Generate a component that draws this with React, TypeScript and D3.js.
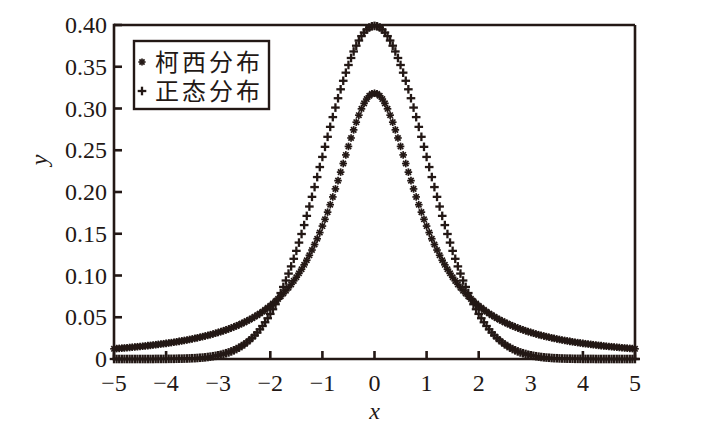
import React from "react";
import * as d3 from "d3";

const xValues = [
  -5.0, -4.95, -4.9, -4.85, -4.8, -4.75, -4.7, -4.65, -4.6, -4.55,
  -4.5, -4.45, -4.4, -4.35, -4.3, -4.25, -4.2, -4.15, -4.1, -4.05,
  -4.0, -3.95, -3.9, -3.85, -3.8, -3.75, -3.7, -3.65, -3.6, -3.55,
  -3.5, -3.45, -3.4, -3.35, -3.3, -3.25, -3.2, -3.15, -3.1, -3.05,
  -3.0, -2.95, -2.9, -2.85, -2.8, -2.75, -2.7, -2.65, -2.6, -2.55,
  -2.5, -2.45, -2.4, -2.35, -2.3, -2.25, -2.2, -2.15, -2.1, -2.05,
  -2.0, -1.95, -1.9, -1.85, -1.8, -1.75, -1.7, -1.65, -1.6, -1.55,
  -1.5, -1.45, -1.4, -1.35, -1.3, -1.25, -1.2, -1.15, -1.1, -1.05,
  -1.0, -0.95, -0.9, -0.85, -0.8, -0.75, -0.7, -0.65, -0.6, -0.55,
  -0.5, -0.45, -0.4, -0.35, -0.3, -0.25, -0.2, -0.15, -0.1, -0.05,
  0.0,
  0.05, 0.1, 0.15, 0.2, 0.25, 0.3, 0.35, 0.4, 0.45, 0.5,
  0.55, 0.6, 0.65, 0.7, 0.75, 0.8, 0.85, 0.9, 0.95, 1.0,
  1.05, 1.1, 1.15, 1.2, 1.25, 1.3, 1.35, 1.4, 1.45, 1.5,
  1.55, 1.6, 1.65, 1.7, 1.75, 1.8, 1.85, 1.9, 1.95, 2.0,
  2.05, 2.1, 2.15, 2.2, 2.25, 2.3, 2.35, 2.4, 2.45, 2.5,
  2.55, 2.6, 2.65, 2.7, 2.75, 2.8, 2.85, 2.9, 2.95, 3.0,
  3.05, 3.1, 3.15, 3.2, 3.25, 3.3, 3.35, 3.4, 3.45, 3.5,
  3.55, 3.6, 3.65, 3.7, 3.75, 3.8, 3.85, 3.9, 3.95, 4.0,
  4.05, 4.1, 4.15, 4.2, 4.25, 4.3, 4.35, 4.4, 4.45, 4.5,
  4.55, 4.6, 4.65, 4.7, 4.75, 4.8, 4.85, 4.9, 4.95, 5.0,
];

const cauchyValues = [
  0.0122, 0.0125, 0.0127, 0.0130, 0.0132, 0.0135, 0.0138, 0.0141, 0.0144, 0.0147,
  0.0150, 0.0153, 0.0156, 0.0160, 0.0163, 0.0167, 0.0171, 0.0175, 0.0179, 0.0183,
  0.0187, 0.0192, 0.0196, 0.0201, 0.0206, 0.0211, 0.0217, 0.0222, 0.0228, 0.0234,
  0.0240, 0.0247, 0.0253, 0.0260, 0.0268, 0.0275, 0.0283, 0.0291, 0.0300, 0.0309,
  0.0318, 0.0328, 0.0338, 0.0349, 0.0360, 0.0372, 0.0384, 0.0397, 0.0410, 0.0424,
  0.0439, 0.0455, 0.0471, 0.0488, 0.0506, 0.0525, 0.0545, 0.0566, 0.0588, 0.0612,
  0.0637, 0.0663, 0.0690, 0.0720, 0.0751, 0.0784, 0.0818, 0.0855, 0.0894, 0.0936,
  0.0979, 0.1026, 0.1075, 0.1128, 0.1183, 0.1242, 0.1305, 0.1371, 0.1440, 0.1514,
  0.1592, 0.1673, 0.1759, 0.1848, 0.1941, 0.2037, 0.2136, 0.2238, 0.2341, 0.2444,
  0.2546, 0.2647, 0.2744, 0.2836, 0.2920, 0.2996, 0.3061, 0.3113, 0.3152, 0.3175,
  0.3183,
  0.3175, 0.3152, 0.3113, 0.3061, 0.2996, 0.2920, 0.2836, 0.2744, 0.2647, 0.2546,
  0.2444, 0.2341, 0.2238, 0.2136, 0.2037, 0.1941, 0.1848, 0.1759, 0.1673, 0.1592,
  0.1514, 0.1440, 0.1371, 0.1305, 0.1242, 0.1183, 0.1128, 0.1075, 0.1026, 0.0979,
  0.0936, 0.0894, 0.0855, 0.0818, 0.0784, 0.0751, 0.0720, 0.0690, 0.0663, 0.0637,
  0.0612, 0.0588, 0.0566, 0.0545, 0.0525, 0.0506, 0.0488, 0.0471, 0.0455, 0.0439,
  0.0424, 0.0410, 0.0397, 0.0384, 0.0372, 0.0360, 0.0349, 0.0338, 0.0328, 0.0318,
  0.0309, 0.0300, 0.0291, 0.0283, 0.0275, 0.0268, 0.0260, 0.0253, 0.0247, 0.0240,
  0.0234, 0.0228, 0.0222, 0.0217, 0.0211, 0.0206, 0.0201, 0.0196, 0.0192, 0.0187,
  0.0183, 0.0179, 0.0175, 0.0171, 0.0167, 0.0163, 0.0160, 0.0156, 0.0153, 0.0150,
  0.0147, 0.0144, 0.0141, 0.0138, 0.0135, 0.0132, 0.0130, 0.0127, 0.0125, 0.0122,
];

const normalValues = [
  0, 0, 0, 0, 0, 0, 0, 0, 0, 0,
  0, 0, 0, 0, 0, 0, 0.0001, 0.0001, 0.0001, 0.0001,
  0.0001, 0.0002, 0.0002, 0.0002, 0.0003, 0.0004, 0.0004, 0.0005, 0.0006, 0.0007,
  0.0009, 0.0010, 0.0012, 0.0015, 0.0017, 0.0020, 0.0024, 0.0028, 0.0033, 0.0038,
  0.0044, 0.0051, 0.0060, 0.0069, 0.0079, 0.0091, 0.0104, 0.0119, 0.0136, 0.0155,
  0.0175, 0.0198, 0.0224, 0.0252, 0.0283, 0.0317, 0.0355, 0.0395, 0.0440, 0.0488,
  0.0540, 0.0596, 0.0656, 0.0721, 0.0790, 0.0863, 0.0940, 0.1023, 0.1109, 0.1200,
  0.1295, 0.1394, 0.1497, 0.1604, 0.1714, 0.1826, 0.1942, 0.2059, 0.2179, 0.2299,
  0.2420, 0.2541, 0.2661, 0.2780, 0.2897, 0.3011, 0.3123, 0.3230, 0.3332, 0.3429,
  0.3521, 0.3605, 0.3683, 0.3752, 0.3814, 0.3867, 0.3910, 0.3945, 0.3970, 0.3984,
  0.3989,
  0.3984, 0.3970, 0.3945, 0.3910, 0.3867, 0.3814, 0.3752, 0.3683, 0.3605, 0.3521,
  0.3429, 0.3332, 0.3230, 0.3123, 0.3011, 0.2897, 0.2780, 0.2661, 0.2541, 0.2420,
  0.2299, 0.2179, 0.2059, 0.1942, 0.1826, 0.1714, 0.1604, 0.1497, 0.1394, 0.1295,
  0.1200, 0.1109, 0.1023, 0.0940, 0.0863, 0.0790, 0.0721, 0.0656, 0.0596, 0.0540,
  0.0488, 0.0440, 0.0395, 0.0355, 0.0317, 0.0283, 0.0252, 0.0224, 0.0198, 0.0175,
  0.0155, 0.0136, 0.0119, 0.0104, 0.0091, 0.0079, 0.0069, 0.0060, 0.0051, 0.0044,
  0.0038, 0.0033, 0.0028, 0.0024, 0.0020, 0.0017, 0.0015, 0.0012, 0.0010, 0.0009,
  0.0007, 0.0006, 0.0005, 0.0004, 0.0004, 0.0003, 0.0002, 0.0002, 0.0002, 0.0001,
  0.0001, 0.0001, 0.0001, 0.0001, 0, 0, 0, 0, 0, 0,
  0, 0, 0, 0, 0, 0, 0, 0, 0, 0,
];

const xTicks = [-5, -4, -3, -2, -1, 0, 1, 2, 3, 4, 5];
const xTickLabels = ["−5", "−4", "−3", "−2", "−1", "0", "1", "2", "3", "4", "5"];
const yTicks = [0, 0.05, 0.1, 0.15, 0.2, 0.25, 0.3, 0.35, 0.4];
const yTickLabels = ["0", "0.05", "0.10", "0.15", "0.20", "0.25", "0.30", "0.35", "0.40"];
const legendLabels = ["柯西分布", "正态分布"];

const INK = "#231815";
const W = 723;
const H = 435;
const L = 114, R = 635, T = 25, B = 359;

function Asterisk({ x, y, s }: { x: number; y: number; s: number }) {
  const d = s * 0.7071;
  return (
    <g stroke={INK} strokeWidth={1.7}>
      <line x1={x - s} y1={y} x2={x + s} y2={y} />
      <line x1={x} y1={y - s} x2={x} y2={y + s} />
      <line x1={x - d} y1={y - d} x2={x + d} y2={y + d} />
      <line x1={x - d} y1={y + d} x2={x + d} y2={y - d} />
    </g>
  );
}

function Plus({ x, y, s }: { x: number; y: number; s: number }) {
  return (
    <g stroke={INK} strokeWidth={2.3}>
      <line x1={x - s} y1={y} x2={x + s} y2={y} />
      <line x1={x} y1={y - s} x2={x} y2={y + s} />
    </g>
  );
}

export default function App() {
  const xs = d3.scaleLinear().domain([-5, 5]).range([L, R]);
  const ys = d3.scaleLinear().domain([0, 0.4]).range([B, T]);
  const serif = "'Liberation Serif', 'DejaVu Serif', serif";

  return (
    <svg
      width={W}
      height={H}
      style={{ position: "absolute", left: 0, top: 0, background: "#fff" }}
    >
      <rect x={0} y={0} width={W} height={H} fill="#fff" />
      {xValues.map((v, i) => (
        <Asterisk key={"c" + i} x={xs(v)} y={ys(cauchyValues[i])} s={3.8} />
      ))}
      {xValues.map((v, i) => (
        <Plus key={"n" + i} x={xs(v)} y={ys(normalValues[i])} s={4.3} />
      ))}

      <g stroke={INK} strokeWidth={2.6} fill="none">
        <line x1={L} y1={T} x2={R} y2={T} />
        <line x1={R} y1={T} x2={R} y2={B} />
        <line x1={L} y1={T - 1.3} x2={L} y2={B} />
        <line x1={L - 1.3} y1={B} x2={R + 5} y2={B} />
      </g>

      {xTicks.map((t, i) => (
        <g key={"xt" + i}>
          <line x1={xs(t)} y1={B} x2={xs(t)} y2={B - 8} stroke={INK} strokeWidth={2.6} />
          <text x={xs(t)} y={391} textAnchor="middle" fontFamily={serif} fontSize={24} fill={INK}>
            {xTickLabels[i]}
          </text>
        </g>
      ))}

      {yTicks.map((t, i) => (
        <g key={"yt" + i}>
          <line x1={L} y1={ys(t)} x2={L + 8} y2={ys(t)} stroke={INK} strokeWidth={2.6} />
          <text x={107} y={ys(t) + 8} textAnchor="end" fontFamily={serif} fontSize={24} fill={INK}>
            {yTickLabels[i]}
          </text>
        </g>
      ))}

      <text
        x={(L + R) / 2}
        y={419}
        textAnchor="middle"
        fontFamily={serif}
        fontStyle="italic"
        fontSize={24}
        fill={INK}
      >
        x
      </text>
      <text
        transform={`translate(47,160) rotate(-90)`}
        textAnchor="middle"
        fontFamily={serif}
        fontStyle="italic"
        fontSize={24}
        fill={INK}
      >
        y
      </text>

      <rect x={134} y={41} width={135} height={68} fill="#fff" stroke={INK} strokeWidth={2.4} />
      <Asterisk x={142} y={62} s={3.6} />
      <Plus x={142} y={91} s={4.3} />
      {legendLabels.map((lab, i) => (
        <text
          key={"lg" + i}
          x={155}
          y={62 + i * 29 + 8.5}
          fontFamily="'Noto Sans CJK SC', sans-serif"
          fontSize={24}
          letterSpacing={3}
          fill={INK}
        >
          {lab}
        </text>
      ))}
    </svg>
  );
}
